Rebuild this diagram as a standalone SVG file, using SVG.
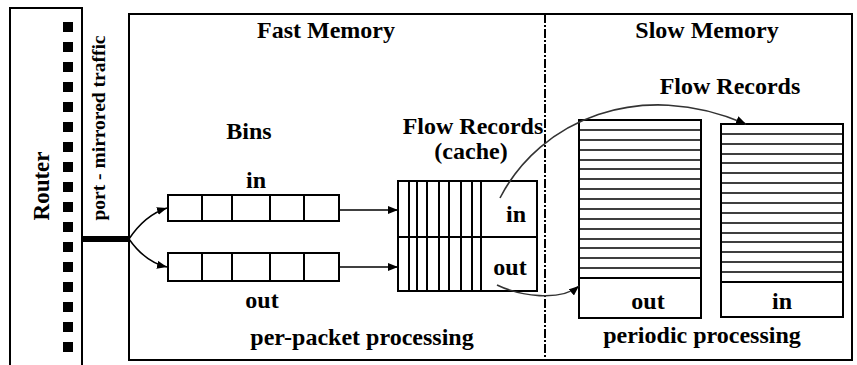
<svg xmlns="http://www.w3.org/2000/svg" width="857" height="365" viewBox="0 0 857 365">
<defs>
<style>
text{font-family:"Liberation Serif","Times New Roman",serif;font-weight:bold;fill:#000}
.t{font-size:24px;text-anchor:middle}
.box{fill:none;stroke:#000;stroke-width:2}
.thin{fill:none;stroke:#000;stroke-width:1.7}
.con{fill:none;stroke:#000;stroke-width:1.5}
.curve{fill:none;stroke:#333;stroke-width:1.6}
</style>
<marker id="ah" viewBox="0 0 10 8" refX="10" refY="4" markerWidth="10" markerHeight="8" markerUnits="userSpaceOnUse" orient="auto">
<path d="M0,0 L10,4 L0,8 z" fill="#000"/>
</marker>
</defs>
<rect width="857" height="365" fill="#fff"/>

<g id="router">
<path class="box" d="M10,370 V8 H82 V370"/>
<g fill="#000">
<rect x="63" y="22" width="10" height="10"/><rect x="63" y="42" width="10" height="10"/>
<rect x="63" y="62" width="10" height="10"/><rect x="63" y="82" width="10" height="10"/>
<rect x="63" y="102" width="10" height="10"/><rect x="63" y="122" width="10" height="10"/>
<rect x="63" y="142" width="10" height="10"/><rect x="63" y="162" width="10" height="10"/>
<rect x="63" y="182" width="10" height="10"/><rect x="63" y="202" width="10" height="10"/>
<rect x="63" y="222" width="10" height="10"/><rect x="63" y="242" width="10" height="10"/>
<rect x="63" y="262" width="10" height="10"/><rect x="63" y="282" width="10" height="10"/>
<rect x="63" y="302" width="10" height="10"/><rect x="63" y="322" width="10" height="10"/>
<rect x="63" y="342" width="10" height="10"/>
</g>
<text transform="translate(49,186) rotate(-90)" font-size="23" text-anchor="middle">Router</text>
<text transform="translate(105,128) rotate(-90)" font-size="19.5" text-anchor="middle">port - mirrored traffic</text>
</g>

<g id="memory">
<rect class="box" x="129" y="14" width="723" height="346"/>
<line x1="545" y1="14" x2="545" y2="360" stroke="#000" stroke-width="2" stroke-dasharray="9,2,2,2"/>
<text class="t" x="326" y="38">Fast Memory</text>
<text class="t" x="707" y="38">Slow Memory</text>
<text class="t" x="362" y="345">per-packet processing</text>
<text class="t" x="702" y="343">periodic processing</text>
</g>

<g id="bins">
<text class="t" x="249" y="139">Bins</text>
<text class="t" x="256" y="188">in</text>
<text class="t" x="262" y="308">out</text>
<rect class="box" x="168" y="195" width="171" height="26"/>
<path class="box" d="M202,195V221M232,195V221M270,195V221M304,195V221"/>
<rect class="box" x="168" y="253" width="171" height="28"/>
<path class="box" d="M202,253V281M232,253V281M270,253V281M304,253V281"/>
</g>

<g id="cache">
<text class="t" x="473" y="134">Flow Records</text>
<text class="t" x="471" y="159">(cache)</text>
<rect class="box" x="398" y="181" width="139" height="110"/>
<path class="box" d="M398,237H537M409,181V291M417,181V291M427,181V291M439,181V291M449,181V291M461,181V291M472,181V291M481,181V291"/>
<text class="t" x="516" y="222">in</text>
<text class="t" x="510" y="275">out</text>
</g>

<g id="slow-out">
<rect class="box" x="579" y="120" width="122" height="198"/>
<path class="thin" d="M579,130H701M579,140H701M579,150H701M579,160H701M579,169H701M579,179H701M579,189H701M579,199H701M579,209H701M579,219H701M579,229H701M579,239H701M579,248H701M579,258H701M579,268H701"/>
<path class="box" d="M579,278H701"/>
<text class="t" x="648" y="309">out</text>
</g>

<g id="slow-in">
<text class="t" x="730" y="94">Flow Records</text>
<rect class="box" x="721" y="124" width="122" height="193"/>
<path class="thin" d="M721,134H843M721,144H843M721,154H843M721,163H843M721,173H843M721,183H843M721,193H843M721,203H843M721,213H843M721,223H843M721,233H843M721,242H843M721,252H843M721,262H843M721,272H843"/>
<path class="box" d="M721,282H843"/>
<text class="t" x="782" y="309">in</text>
</g>

<g id="connectors">
<line x1="82" y1="239" x2="129" y2="239" stroke="#000" stroke-width="6"/>
<path class="con" d="M129,239 Q145,215 167,208" marker-end="url(#ah)"/>
<path class="con" d="M129,239 Q145,262 167,267" marker-end="url(#ah)"/>
<line class="con" x1="339" y1="210" x2="398" y2="210" marker-end="url(#ah)"/>
<line class="con" x1="339" y1="267" x2="398" y2="267" marker-end="url(#ah)"/>
<path class="curve" d="M500,198 C540,120 640,78 746,124" marker-end="url(#ah)"/>
<path class="curve" d="M497,285 C520,296 560,302 579,286" marker-end="url(#ah)"/>
</g>
</svg>
